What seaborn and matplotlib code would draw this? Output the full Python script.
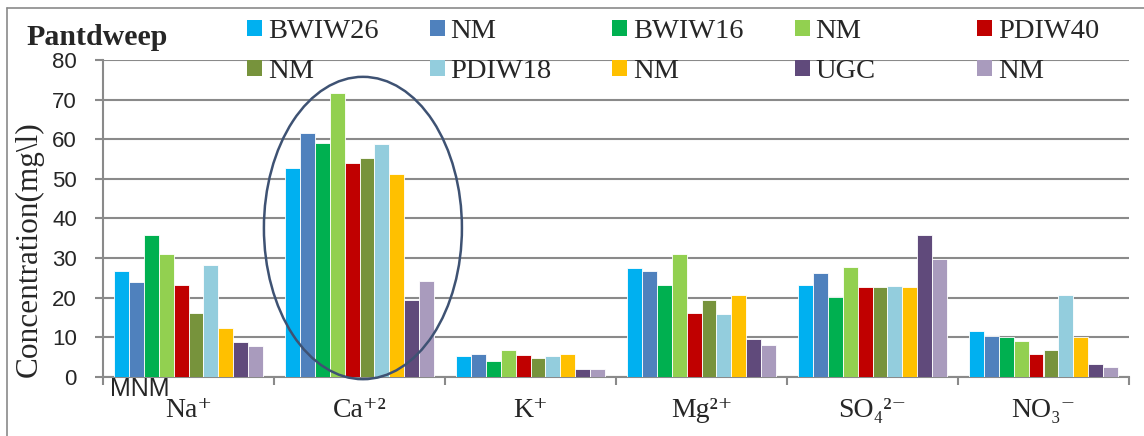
import matplotlib
matplotlib.use("Agg")
import matplotlib.pyplot as plt
from matplotlib.patches import Patch, Ellipse
from matplotlib.lines import Line2D
import seaborn as sns
import pandas as pd

# Ions on the x axis
ions = ["Na⁺", "Ca⁺²", "K⁺", "Mg²⁺", "SO₄²⁻", "NO₃⁻"]

# Concentrations (mg/l): each sample followed by its NM value
bwiw26 = [26.8, 52.8, 5.2, 27.4, 23.2, 11.7]
bwiw26_nm = [24.0, 61.5, 5.7, 26.7, 26.3, 10.3]
bwiw16 = [35.9, 59.0, 4.0, 23.3, 20.3, 10.0]
bwiw16_nm = [31.1, 71.7, 6.8, 31.1, 27.8, 9.1]
pdiw40 = [23.2, 54.0, 5.6, 16.1, 22.8, 5.8]
pdiw40_nm = [16.2, 55.3, 4.7, 19.4, 22.8, 6.8]
pdiw18 = [28.3, 58.7, 5.2, 16.0, 22.9, 20.7]
pdiw18_nm = [12.3, 51.2, 5.9, 20.8, 22.8, 10.0]
ugc = [8.9, 19.5, 1.9, 9.5, 35.9, 3.4]
ugc_nm = [7.8, 24.2, 2.0, 8.0, 29.7, 2.4]

series_keys = ["BWIW26", "BWIW26 NM", "BWIW16", "BWIW16 NM", "PDIW40",
               "PDIW40 NM", "PDIW18", "PDIW18 NM", "UGC", "UGC NM"]
series_labels = ["BWIW26", "NM", "BWIW16", "NM", "PDIW40",
                 "NM", "PDIW18", "NM", "UGC", "NM"]
series_values = [bwiw26, bwiw26_nm, bwiw16, bwiw16_nm, pdiw40,
                 pdiw40_nm, pdiw18, pdiw18_nm, ugc, ugc_nm]
series_colors = ["#00B0F0", "#4F81BD", "#00B050", "#92D050", "#C00000",
                 "#77933C", "#93CDDD", "#FFC000", "#604A7B", "#A99BBD"]

y_ticks = [0, 10, 20, 30, 40, 50, 60, 70, 80]

rows = []
for key, vals in zip(series_keys, series_values):
    for ion, v in zip(ions, vals):
        rows.append({"ion": ion, "series": key, "value": v})
df = pd.DataFrame(rows)

sns.set_style("white")
SERIF = ["Liberation Serif", "DejaVu Serif"]
SANS = ["Liberation Sans", "DejaVu Sans"]
plt.rcParams["font.family"] = SERIF

W, H = 1144, 436
fig = plt.figure(figsize=(W / 100, H / 100), dpi=100)
fig.patch.set_facecolor("white")

GRID = "#8A8A8A"

ax = fig.add_axes([103 / W, 1 - 377 / H, (1129 - 103) / W, (377 - 60) / H])
sns.barplot(data=df, x="ion", y="value", hue="series", hue_order=series_keys,
            order=ions, palette=dict(zip(series_keys, series_colors)),
            width=0.877, gap=0, saturation=1, errorbar=None,
            edgecolor="white", linewidth=0.6, legend=False, ax=ax, zorder=3)

ax.set_xlim(-0.5, len(ions) - 0.5)
ax.set_ylim(0, 80)
ax.set_yticks(y_ticks)
ax.set_yticklabels([str(t) for t in y_ticks], family=SANS, fontsize=16)
ax.yaxis.grid(True, color=GRID, linewidth=1.5, zorder=0)
ax.set_axisbelow(True)

ax.set_xticks(range(len(ions)))
ax.set_xticklabels(ions, fontsize=20, family=SERIF)
ax.set_xticks([i - 0.5 for i in range(len(ions) + 1)], minor=True)
ax.tick_params(axis="x", which="major", length=0, pad=15)
ax.tick_params(axis="x", which="minor", length=5.8, width=1.5, color=GRID,
               direction="out", bottom=True)
ax.tick_params(axis="y", which="major", length=5.8, width=1.5, color=GRID,
               direction="out", left=True, pad=13)

for s in ["top", "right"]:
    ax.spines[s].set_visible(False)
for s in ["left", "bottom"]:
    ax.spines[s].set_color(GRID)
    ax.spines[s].set_linewidth(1.5)

ax.set_xlabel("")
ax.set_ylabel("Concentration(mg\\l)", fontsize=22.5, family=SERIF)
ax.yaxis.set_label_coords(-(103 - 29) / (1129 - 103), (377 - 249) / (377 - 60))
ax.yaxis.label.set_va("center")

# Ring highlighting the calcium group
ax.add_patch(Ellipse((1.02, 37.6), 1.158, 76.3, fill=False,
                     edgecolor="#3E5273", linewidth=1.8, clip_on=False,
                     zorder=6))

# Legend: five columns, two rows
handles = [Patch(facecolor=c, edgecolor="none") for c in series_colors]
for j in range(5):
    x0 = (247 + 182.5 * j) / W
    fig.legend([handles[j], handles[j + 5]],
               [series_labels[j], series_labels[j + 5]],
               loc="upper left", bbox_to_anchor=(x0, 1 - 19 / H),
               bbox_transform=fig.transFigure, frameon=False,
               prop={"family": SERIF, "size": 20.5},
               handlelength=0.53, handleheight=0.53, handletextpad=0.2,
               borderpad=0, borderaxespad=0, labelspacing=0.53)

fig.text(26 / W, 1 - 45 / H, "Pantdweep", fontsize=21.5, fontweight="bold",
         family=SERIF, va="baseline", ha="left")
fig.text(110 / W, 1 - 396 / H, "MNM", fontsize=18, family=SANS,
         va="baseline", ha="left")

# Outer chart frame
fig.add_artist(Line2D([7 / W, 7 / W], [0, 1 - 8 / H], color=GRID,
                      linewidth=1.2, transform=fig.transFigure))
fig.add_artist(Line2D([7 / W, 1], [1 - 8 / H, 1 - 8 / H], color=GRID,
                      linewidth=1.2, transform=fig.transFigure))

fig.savefig("out.png", dpi=100, facecolor="white")
